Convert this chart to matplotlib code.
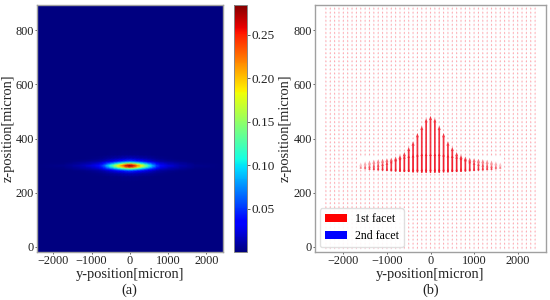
import numpy as np
import matplotlib
matplotlib.use("Agg")
import matplotlib.pyplot as plt

plt.rcParams['font.family'] = ['Liberation Serif', 'DejaVu Serif']

# (a) field: y distance from centre, z distance from 300
y_offsets = [0, 100, 200, 300, 400, 500, 600, 700, 800, 1000, 1300, 1700, 2500]
z_offsets = [0, 5, 10, 15, 20, 28, 40, 60, 620]
field = [
    [0.285, 0.265, 0.225, 0.185, 0.150, 0.115, 0.085, 0.055, 0.038, 0.024, 0.012, 0.004, 0.0],
    [0.245, 0.225, 0.190, 0.160, 0.125, 0.095, 0.070, 0.045, 0.030, 0.018, 0.009, 0.003, 0.0],
    [0.150, 0.140, 0.120, 0.100, 0.082, 0.064, 0.048, 0.032, 0.022, 0.013, 0.007, 0.002, 0.0],
    [0.085, 0.080, 0.068, 0.056, 0.046, 0.036, 0.027, 0.018, 0.012, 0.008, 0.004, 0.001, 0.0],
    [0.045, 0.042, 0.036, 0.030, 0.024, 0.019, 0.014, 0.010, 0.007, 0.004, 0.002, 0.001, 0.0],
    [0.016, 0.015, 0.013, 0.011, 0.009, 0.007, 0.006, 0.004, 0.003, 0.002, 0.001, 0.0, 0.0],
    [0.003, 0.003, 0.003, 0.002, 0.002, 0.002, 0.001, 0.001, 0.001, 0.0, 0.0, 0.0, 0.0],
    [0.0005, 0.0005, 0.0005, 0.0, 0.0, 0.0, 0.0, 0.0, 0.0, 0.0, 0.0, 0.0, 0.0],
    [0.0, 0.0, 0.0, 0.0, 0.0, 0.0, 0.0, 0.0, 0.0, 0.0, 0.0, 0.0, 0.0],
]
cbar_ticks = [0.05, 0.10, 0.15, 0.20, 0.25]

# (b) large arrows: column position, top of the arrow, base of the arrow
arrow_y = [0, 100, 200, 300, 400, 500, 600, 700, 800, 900, 1000, 1100, 1200, 1300, 1400, 1500, 1600]
arrow_top = [484, 475, 447, 420, 389, 369, 350, 340, 334, 330, 328, 326, 324, 322, 319, 316, 312]
arrow_base = [274, 274, 274, 275, 275, 276, 276, 277, 278, 279, 280, 281, 282, 283, 284, 286, 288]
arrow_mid = [345, 345, 345, 343, 340, 338, 335, 330, 325, 318, 312, 308, 305, 303, 301, 300, 299]
arrow_low = [290, 290, 290, 290, 290, 290, 290, 291, 291, 292, 292, 293, 293, 294, 294, 295, 296]
arrow_alpha = [0.85, 0.85, 0.85, 0.85, 0.85, 0.85, 0.8, 0.8, 0.75, 0.7, 0.65, 0.6, 0.55, 0.5, 0.45, 0.35, 0.25]

plain_x = [-2000, -1000, 0, 1000, 2000]
plain_z = [0, 200, 400, 600, 800]

W, H = 550, 300
fig = plt.figure(figsize=(5.5, 3.0), dpi=100)


def box(l, t, r, b):
    return [l / W, 1 - b / H, (r - l) / W, (b - t) / H]


ax1 = fig.add_axes(box(37, 4.5, 222.5, 252))
cax = fig.add_axes(box(234, 4.5, 247, 252))
ax2 = fig.add_axes(box(315, 4.5, 546, 252))

# ---------- (a)
f = np.array(field)
y_full = np.array([-v for v in y_offsets[:0:-1]] + y_offsets, dtype=float)
z_full = np.array([300 - v for v in z_offsets[:0:-1]] + [300 + v for v in z_offsets], dtype=float)
f_y = np.hstack([f[:, :0:-1], f])
f_full = np.vstack([f_y[:0:-1], f_y])
mesh = ax1.pcolormesh(y_full, z_full, f_full, cmap='jet', shading='gouraud', vmin=0.0, vmax=0.285, rasterized=True)
ax1.set_xlim(-2425, 2425)
ax1.set_ylim(-20, 896)
cb = fig.colorbar(mesh, cax=cax, ticks=cbar_ticks)
cb.ax.set_yticklabels([f"{t:.2f}" for t in cbar_ticks])
cb.ax.tick_params(labelsize=9.5, length=2, width=0.5, pad=1.5, colors='#222222')
cb.outline.set_edgecolor('#888888')
cb.outline.set_linewidth(0.7)

# ---------- (b)
gy = np.arange(-2400, 2401, 100)
gz = np.arange(-10, 891, 15)
GY, GZ = np.meshgrid(gy, gz)
keep = ~((np.abs(GY) < 1700) & (np.abs(GZ - 300) < 22))
ax2.quiver(GY[keep], GZ[keep], np.zeros(keep.sum()), np.full(keep.sum(), 5.0),
           angles='xy', scale_units='xy', scale=1, color='#3060d0', alpha=0.10,
           width=0.006, headwidth=1, headlength=1, headaxislength=1, minlength=0)
ax2.quiver(GY[keep], GZ[keep] + 3, np.zeros(keep.sum()), np.full(keep.sum(), 8.0),
           angles='xy', scale_units='xy', scale=1, color='#ff2030', alpha=0.38,
           width=0.005, headwidth=1, headlength=1, headaxislength=1, minlength=0)

ax_y = np.array([-v for v in arrow_y[:0:-1]] + arrow_y, dtype=float)
ax_top = np.array(arrow_top[:0:-1] + arrow_top, dtype=float)
ax_base = np.array(arrow_base[:0:-1] + arrow_base, dtype=float)
ax_mid = np.array(arrow_mid[:0:-1] + arrow_mid, dtype=float)
ax_low = np.array(arrow_low[:0:-1] + arrow_low, dtype=float)
ax_alpha = np.array(arrow_alpha[:0:-1] + arrow_alpha, dtype=float)
reds = np.zeros((len(ax_y), 4))
reds[:, 0] = 0.95
reds[:, 1] = 0.08
reds[:, 2] = 0.14
reds[:, 3] = ax_alpha

ax2.quiver(ax_y, ax_base, np.zeros_like(ax_y), ax_top - ax_base, angles='xy', scale_units='xy', scale=1,
           color=reds, width=0.0075, headwidth=1.8, headlength=2.5, headaxislength=2.3,
           minlength=0, label='1st facet')
ax2.quiver(ax_y, ax_base, np.zeros_like(ax_y), ax_mid - ax_base, angles='xy', scale_units='xy', scale=1,
           color=reds, width=0.004, headwidth=3.2, headlength=3, headaxislength=2.6, minlength=0)
ax2.quiver(ax_y, ax_base, np.zeros_like(ax_y), ax_low - ax_base, angles='xy', scale_units='xy', scale=1,
           color=reds, width=0.004, headwidth=2.8, headlength=3, headaxislength=2.6, minlength=0)
ax2.quiver([], [], [], [], color='#0000ff', label='2nd facet')

ax2.set_xlim(-2650, 2650)
ax2.set_ylim(-20, 896)
leg = ax2.legend(loc='lower left', fontsize=8.6, frameon=True, framealpha=0.9, edgecolor='#dddddd',
                 bbox_to_anchor=(0.0, 0.0), borderaxespad=0.42, handlelength=1.85, handleheight=0.65,
                 labelspacing=0.42, handletextpad=0.67, borderpad=0.4)
for h, c in zip(leg.legend_handles, ['#ff0000', '#0000ff']):
    h.set_facecolor(c)
    h.set_edgecolor(c)

for ax, cap, lx in ((ax1, '(a)', -0.158), (ax2, '(b)', -0.13)):
    ax.set_xticks(plain_x)
    ax.set_yticks(plain_z)
    ax.tick_params(labelsize=8.8, length=1.5, width=0.5, pad=0.8, colors='#222222')
    ax.set_xlabel('y-position[micron]', fontsize=10.4, color='#222222', va='center')
    ax.set_ylabel('z-position[micron]', fontsize=10.4, color='#222222', va='center')
    ax.xaxis.set_label_coords(0.5, -0.09)
    ax.yaxis.set_label_coords(lx, 0.5)
    for s in ax.spines.values():
        s.set_edgecolor('#a0a0a0')
        s.set_linewidth(1.0)
    ax.text(0.5, -0.154, cap, transform=ax.transAxes, ha='center', va='center', fontsize=10.4, color='#222222')

fig.savefig('out.png', dpi=100)
